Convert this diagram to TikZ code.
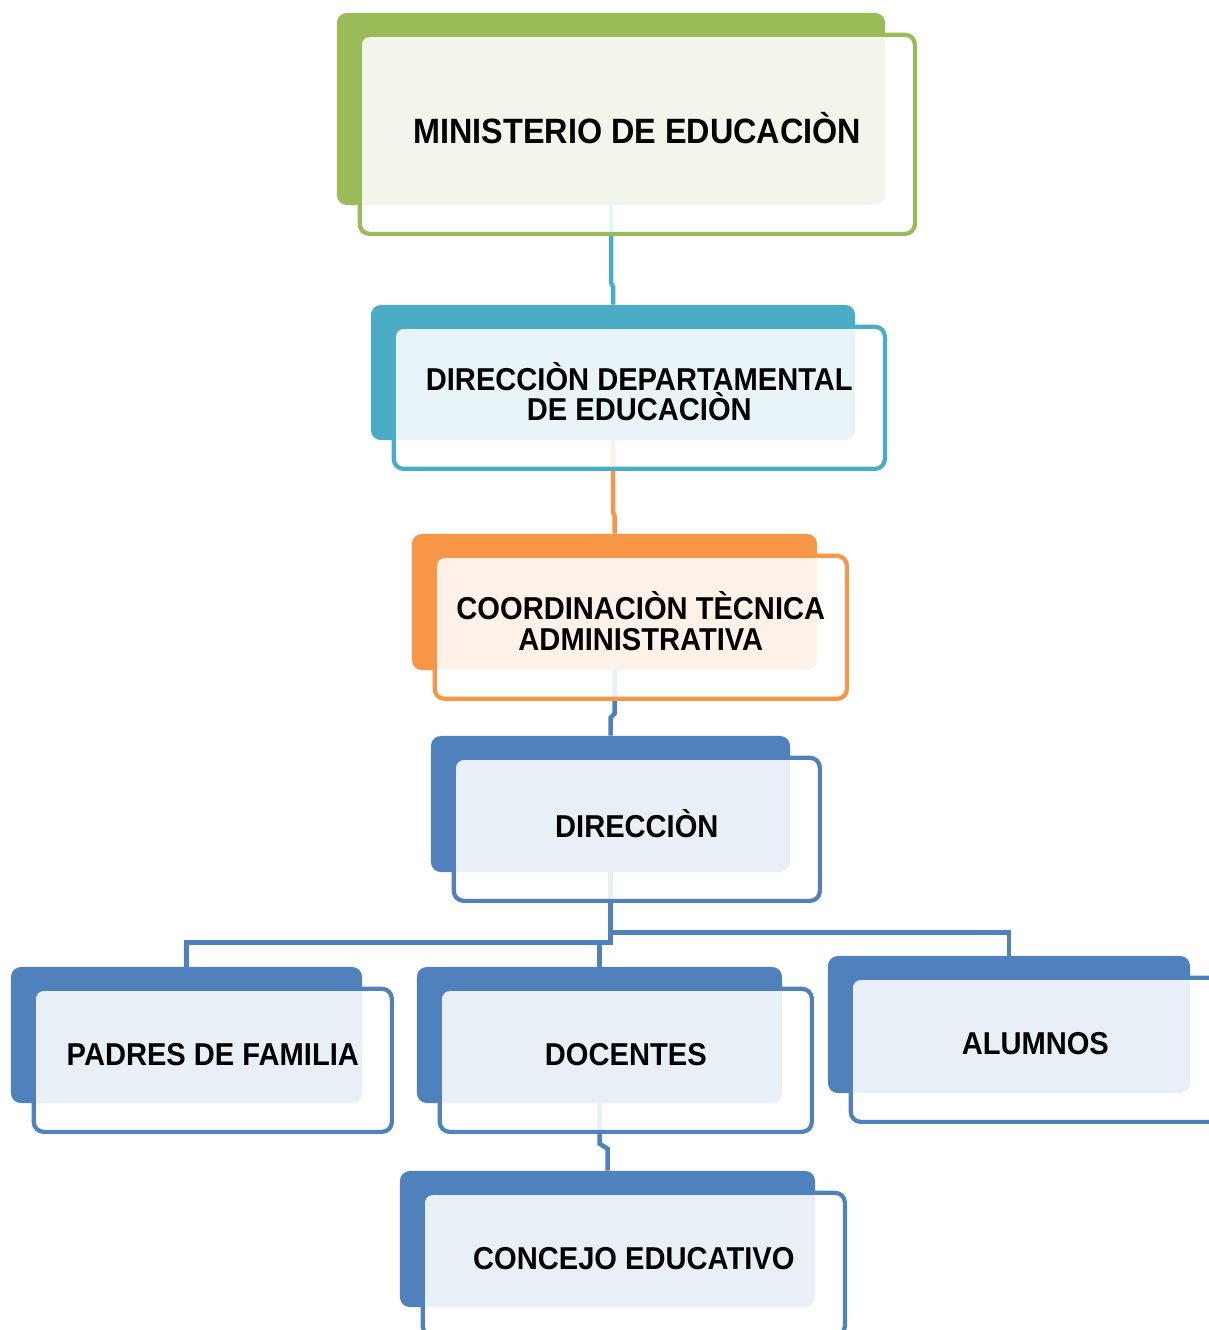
\documentclass[tikz,border=0pt]{standalone}
\usepackage{fontspec}
\newfontfamily\orgfont{Liberation Sans}[FakeStretch=0.92]
\definecolor{MinGreen}{HTML}{9BBB59}
\definecolor{DepTeal}{HTML}{4BACC6}
\definecolor{TecOrange}{HTML}{F79646}
\definecolor{SchoolBlue}{HTML}{4F81BD}
\usepackage{tikz}
\usetikzlibrary{
  positioning,
  calc
}
\tikzset{
  % Solid card behind
  backcard/.style={
    rectangle,
    rounded corners=7pt,
    fill=#1,
    inner sep=0pt
  },
  % Framed card in front, holds the label
  cardframe/.style={
    rectangle,
    rounded corners=7pt,
    draw=#1,
    line width=3pt,
    fill=white,
    fill opacity=0.88,
    text opacity=1,
    inner sep=0pt,
    text depth=9pt,
    align=center,
    anchor=north west,
    font=\orgfont\bfseries\fontsize{22.5}{21.5}\selectfont
  },
  % Connector
  link/.style={
    draw=#1,
    line width=3.2pt
  }
}

\begin{document}
\begin{tikzpicture}[x=0.025cm, y=-0.025cm]
  \useasboundingbox (0,0) rectangle (1209,1330);

  % back cards
  \node[backcard=MinGreen,   minimum width=13.7cm,   minimum height=4.8cm]   (minB)   at (611,109)    {};
  \node[backcard=DepTeal,    minimum width=12.1cm,   minimum height=3.375cm] (ddepB)  at (613,372.5)  {};
  \node[backcard=TecOrange,  minimum width=10.125cm, minimum height=3.4cm]   (coordB) at (614.5,602)  {};
  \node[backcard=SchoolBlue, minimum width=8.975cm,  minimum height=3.4cm]   (dirB)   at (610.5,804)  {};
  \node[backcard=SchoolBlue, minimum width=8.775cm,  minimum height=3.4cm]   (padB)   at (186.5,1035) {};
  \node[backcard=SchoolBlue, minimum width=9.125cm,  minimum height=3.4cm]   (docB)   at (599.5,1035) {};
  \node[backcard=SchoolBlue, minimum width=9.05cm,   minimum height=3.425cm] (aluB)   at (1009,1024.5) {};
  \node[backcard=SchoolBlue, minimum width=10.375cm, minimum height=3.4cm]   (conB)   at (607.5,1239) {};

  % connectors
  \draw[link=DepTeal] (minB.south) -- ($(minB.south |- ddepB.north)+(0,-22)$)
    -- ($(ddepB.north)+(0,-18)$) -- (ddepB.north);
  \draw[link=TecOrange] (ddepB.south) -- ($(ddepB.south |- coordB.north)+(0,-22)$)
    -- ($(coordB.north)+(0,-18)$) -- (coordB.north);
  \draw[link=SchoolBlue] (coordB.south) -- ($(coordB.south |- dirB.north)+(0,-22)$)
    -- ($(dirB.north)+(0,-18)$) -- (dirB.north);
  \draw[link=SchoolBlue] (dirB.south) -- ++(0,70) -| (padB.north);
  \draw[link=SchoolBlue] (dirB.south) ++(0,70) -| (docB.north);
  \draw[link=SchoolBlue] (dirB.south) ++(0,60) -| (aluB.north);
  \draw[link=SchoolBlue] (docB.south) -- ($(docB.south |- conB.north)+(0,-27)$)
    -- ($(conB.north)+(0,-22)$) -- (conB.north);

  % front cards
  \node[cardframe=MinGreen, minimum width=13.875cm, minimum height=4.975cm,
    font=\orgfont\bfseries\fontsize{25}{24}\selectfont]
    (min) at ($(minB.north west)+(21,20)$) {MINISTERIO DE EDUCACIÒN};
  \node[cardframe=DepTeal, minimum width=12.275cm, minimum height=3.55cm]
    (ddep) at ($(ddepB.north west)+(21,20)$) {DIRECCIÒN DEPARTAMENTAL\\DE EDUCACIÒN};
  \node[cardframe=TecOrange, minimum width=10.3cm, minimum height=3.575cm]
    (coord) at ($(coordB.north west)+(21,20)$) {COORDINACIÒN TÈCNICA\\ADMINISTRATIVA};
  \node[cardframe=SchoolBlue, minimum width=9.15cm, minimum height=3.575cm]
    (dir) at ($(dirB.north west)+(21,20)$) {DIRECCIÒN};
  \node[cardframe=SchoolBlue, minimum width=8.95cm, minimum height=3.575cm]
    (pad) at ($(padB.north west)+(21,20)$) {PADRES DE FAMILIA};
  \node[cardframe=SchoolBlue, minimum width=9.3cm, minimum height=3.575cm]
    (doc) at ($(docB.north west)+(21,20)$) {DOCENTES};
  \node[cardframe=SchoolBlue, minimum width=9.225cm, minimum height=3.6cm]
    (alu) at ($(aluB.north west)+(21,20)$) {ALUMNOS};
  \node[cardframe=SchoolBlue, minimum width=10.55cm, minimum height=3.575cm]
    (con) at ($(conB.north west)+(21,20)$) {CONCEJO EDUCATIVO};
\end{tikzpicture}
\end{document}
